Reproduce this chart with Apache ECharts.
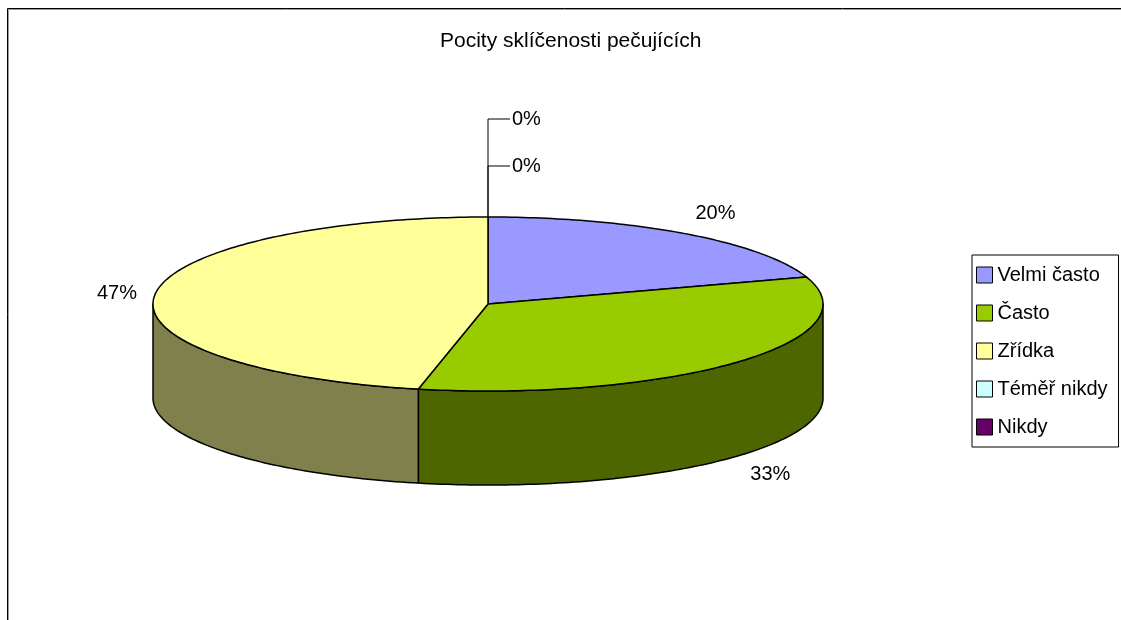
<!DOCTYPE html>
<html>
<head>
<meta charset="utf-8">
<title>Pocity sklíčenosti pečujících</title>
<script src="https://cdn.jsdelivr.net/npm/echarts@6/dist/echarts.min.js"></script>
<style>
  html, body { margin: 0; padding: 0; background: #fff; }
  #chart { width: 1121px; height: 620px; }
</style>
</head>
<body>
<div id="chart"></div>
<script>
// Answers: how often carers feel dejected (number of respondents)
const categories = ['Velmi často', 'Často', 'Zřídka', 'Téměř nikdy', 'Nikdy'];
const counts = [3, 5, 7, 0, 0];
const chartTitle = 'Pocity sklíčenosti pečujících';

// Palette: top faces and the darker rim faces of the tilted pie
const topColors = ['#9999FF', '#99CC00', '#FFFF99', '#CCFFFF', '#660066'];
const sideColors = ['#4D4D80', '#4D6600', '#80804D', '#668080', '#330033'];

const FONT = '"Liberation Sans", Arial, Helvetica, sans-serif';
const total = counts.reduce((a, b) => a + b, 0);

// Pie drawn as an ellipse seen from above at an angle, with a rim of given depth
const PIE = { cx: 488, cy: 304, rx: 335, ry: 87, depth: 94 };

function angleRange(i) {
  let before = 0;
  for (let k = 0; k < i; k++) before += counts[k];
  const a0 = before / total * Math.PI * 2;
  const a1 = (before + counts[i]) / total * Math.PI * 2;
  return [a0, a1];
}

// Angle measured clockwise from 12 o'clock
function pt(theta, dz) {
  return [PIE.cx + PIE.rx * Math.sin(theta), PIE.cy - PIE.ry * Math.cos(theta) + (dz || 0)];
}

function arc(from, to, dz) {
  const pts = [];
  const n = Math.max(2, Math.ceil(Math.abs(to - from) / (Math.PI / 180)));
  for (let s = 0; s <= n; s++) pts.push(pt(from + (to - from) * s / n, dz));
  return pts;
}

function renderSlice(i) {
  return function (params, api) {
    const children = [];
    const value = api.value(0);
    const [a0, a1] = angleRange(i);
    const pct = Math.round(value / total * 100) + '%';
    const edge = { stroke: '#000', lineWidth: 1.5, lineJoin: 'round' };

    if (value > 0) {
      // rim (only the front half of the pie is visible)
      const lo = Math.max(a0, Math.PI / 2);
      const hi = Math.min(a1, Math.PI * 3 / 2);
      if (hi > lo) {
        const pts = arc(lo, hi, 0).concat(arc(hi, lo, PIE.depth));
        children.push({
          type: 'polygon', z2: 1,
          shape: { points: pts },
          style: Object.assign({ fill: sideColors[i] }, edge)
        });
      }
      // top face
      children.push({
        type: 'polygon', z2: 2,
        shape: { points: [[PIE.cx, PIE.cy]].concat(arc(a0, a1, 0)) },
        style: Object.assign({ fill: topColors[i] }, edge)
      });
      // value label outside the slice
      const mid = (a0 + a1) / 2;
      const s = Math.sin(mid), c = Math.cos(mid);
      const gx = 18, gy = 12;
      const x = PIE.cx + (PIE.rx + gx) * s;
      const y = PIE.cy - (PIE.ry + gy) * c + (c < 0 ? PIE.depth : 0);
      children.push({
        type: 'text', z2: 5,
        style: {
          x: x, y: y, text: pct, fill: '#000', font: '20px ' + FONT,
          align: s > 0.05 ? 'left' : (s < -0.05 ? 'right' : 'center'),
          verticalAlign: c > 0.3 ? 'bottom' : (c < -0.3 ? 'top' : 'middle')
        }
      });
    } else {
      // empty slices: labels stacked above the 12 o'clock edge with leader lines
      let zeroRank = 0;
      for (let k = 0; k < i; k++) if (counts[k] === 0) zeroRank++;
      const top = pt(a0, 0);
      const ly = top[1] - 51 - zeroRank * 47;
      children.push({
        type: 'polyline', z2: 4,
        shape: { points: [[top[0], top[1]], [top[0], ly], [top[0] + 22, ly]] },
        style: { stroke: '#000', lineWidth: 1, fill: null }
      });
      children.push({
        type: 'text', z2: 5,
        style: {
          x: top[0] + 24, y: ly, text: pct, fill: '#000', font: '20px ' + FONT,
          align: 'left', verticalAlign: 'middle'
        }
      });
    }
    return { type: 'group', children: children };
  };
}

const chart = echarts.init(document.getElementById('chart'), null, { renderer: 'canvas' });

chart.setOption({
  animation: false,
  backgroundColor: '#fff',
  title: {
    text: chartTitle,
    left: 440,
    top: 31,
    padding: 0,
    textStyle: { fontFamily: FONT, fontSize: 21, fontWeight: 'normal', color: '#000' }
  },
  legend: {
    orient: 'vertical',
    left: 972,
    top: 255,
    padding: [10, 11, 10, 4],
    selectedMode: false,
    icon: 'rect',
    itemWidth: 16,
    itemHeight: 16,
    itemGap: 18,
    borderColor: '#000',
    borderWidth: 1,
    backgroundColor: '#fff',
    itemStyle: { borderColor: '#000', borderWidth: 1 },
    textStyle: { fontFamily: FONT, fontSize: 20, lineHeight: 20, color: '#000', padding: [0, 0, 0, 0] },
    data: categories.map((name, i) => ({ name: name, itemStyle: { color: topColors[i] } }))
  },
  graphic: [
    // chart frame (runs past the right and bottom edges)
    { type: 'line', shape: { x1: 7.5, y1: 8.5, x2: 1121, y2: 8.5 }, style: { stroke: '#000', lineWidth: 1 } },
    { type: 'line', shape: { x1: 8.5, y1: 9.5, x2: 1121, y2: 9.5 }, style: { stroke: '#9a9a9a', lineWidth: 1 } },
    { type: 'line', shape: { x1: 7.5, y1: 8.5, x2: 7.5, y2: 620 }, style: { stroke: '#000', lineWidth: 1 } },
    { type: 'line', shape: { x1: 8.5, y1: 9.5, x2: 8.5, y2: 620 }, style: { stroke: '#9a9a9a', lineWidth: 1 } }
  ],
  series: categories.map((name, i) => ({
    type: 'custom',
    name: name,
    coordinateSystem: 'none',
    itemStyle: { color: topColors[i] },
    renderItem: renderSlice(i),
    data: [[counts[i]]]
  }))
});
</script>
</body>
</html>
